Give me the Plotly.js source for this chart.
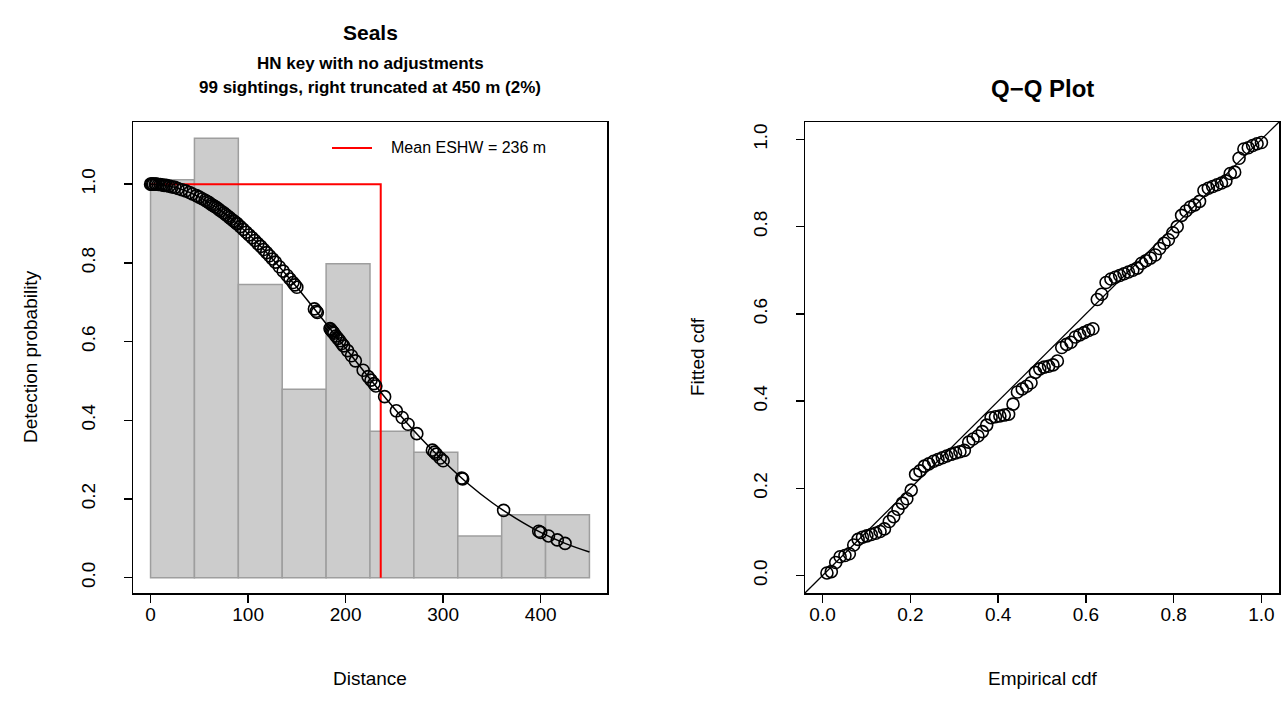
<!DOCTYPE html>
<html>
<head>
<meta charset="utf-8">
<script src="https://cdn.plot.ly/plotly-3.0.1.min.js"></script>
<style>html,body{margin:0;padding:0;background:#fff;}#chart{width:1287px;height:723px;}</style>
</head>
<body>
<div id="chart"></div>
<script>
// ---------- Data: detection function panel ----------
const binLeft = [0, 45, 90, 135, 180, 225, 270, 315, 360, 405];
const binWidth = 45;
const barHeights = [1.011, 1.117, 0.745, 0.479, 0.798, 0.372, 0.319, 0.106, 0.160, 0.160];

const curveDist = [0, 25, 50, 75, 100, 125, 150, 175, 200, 225, 250, 275, 300, 325, 350, 375, 400, 425, 450];
const curveProb = [1.000, 0.992, 0.967, 0.927, 0.874, 0.810, 0.738, 0.661, 0.583, 0.505, 0.430, 0.360, 0.297, 0.240, 0.191, 0.150, 0.115, 0.087, 0.065];

const sightDist = [
  0, 1, 2, 3, 5, 6, 8, 10, 12, 14, 16, 19, 22, 25, 28, 32, 36, 40, 43,
  47, 50, 53, 56, 58, 60, 62, 64, 66, 68, 70, 72, 75, 77, 79, 81, 83, 85, 86, 88, 89,
  92, 95, 98, 101, 104, 107, 110, 113, 116, 119, 122, 125, 128, 132,
  136, 140, 143, 146, 148, 150, 168, 170, 171,
  184, 185, 186, 187, 188, 190, 192, 194, 196, 198, 202, 206, 210, 218, 223,
  226, 229, 231, 240, 252, 258, 264,
  273, 289, 291, 293, 297, 300,
  319, 320,
  362, 398, 400,
  408, 417, 425
];
const sightProb = [
  1.000, 1.000, 1.000, 1.000, 1.000, 1.000, 0.999, 0.999, 0.998, 0.997, 0.997, 0.995, 0.993, 0.992, 0.989, 0.986, 0.983, 0.979, 0.975,
  0.971, 0.967, 0.963, 0.959, 0.956, 0.953, 0.949, 0.946, 0.943, 0.940, 0.936, 0.932, 0.927, 0.923, 0.919, 0.915, 0.911, 0.907, 0.905, 0.901, 0.899,
  0.892, 0.885, 0.878, 0.871, 0.864, 0.857, 0.849, 0.842, 0.834, 0.826, 0.818, 0.810, 0.802, 0.790,
  0.779, 0.768, 0.759, 0.750, 0.744, 0.738, 0.683, 0.677, 0.674,
  0.633, 0.630, 0.627, 0.624, 0.621, 0.614, 0.608, 0.602, 0.595, 0.589, 0.577, 0.564, 0.551, 0.527, 0.511,
  0.502, 0.493, 0.487, 0.460, 0.424, 0.407, 0.390,
  0.366, 0.324, 0.319, 0.314, 0.304, 0.297,
  0.253, 0.251,
  0.171, 0.118, 0.115,
  0.106, 0.096, 0.087
];
const meanESHW = 236;
const eshwLineX = [0, meanESHW, meanESHW];
const eshwLineY = [1, 1, 0];

// ---------- Data: Q-Q panel ----------
const qqEmpirical = [
  0.010,0.020,0.030,0.040,0.051,0.061,0.071,0.081,0.091,0.101,
  0.111,0.121,0.131,0.141,0.152,0.162,0.172,0.182,0.192,0.202,
  0.212,0.222,0.232,0.242,0.253,0.263,0.273,0.283,0.293,0.303,
  0.313,0.323,0.333,0.343,0.354,0.364,0.374,0.384,0.394,0.404,
  0.414,0.424,0.434,0.444,0.455,0.465,0.475,0.485,0.495,0.505,
  0.515,0.525,0.535,0.545,0.556,0.566,0.576,0.586,0.596,0.606,
  0.616,0.626,0.636,0.646,0.657,0.667,0.677,0.687,0.697,0.707,
  0.717,0.727,0.737,0.747,0.758,0.768,0.778,0.788,0.798,0.808,
  0.818,0.828,0.838,0.848,0.859,0.869,0.879,0.889,0.899,0.909,
  0.919,0.929,0.939,0.949,0.960,0.970,0.980,0.990,1.000
];
const qqFitted = [
  0.006,0.009,0.030,0.043,0.046,0.050,0.070,0.083,0.088,0.091,
  0.094,0.097,0.101,0.107,0.124,0.135,0.152,0.166,0.176,0.196,
  0.232,0.240,0.251,0.256,0.262,0.266,0.270,0.274,0.278,0.281,
  0.284,0.287,0.306,0.313,0.320,0.330,0.345,0.362,0.364,0.366,
  0.368,0.370,0.393,0.421,0.428,0.434,0.442,0.466,0.474,0.478,
  0.480,0.483,0.492,0.523,0.530,0.535,0.547,0.552,0.557,0.562,
  0.566,0.633,0.645,0.672,0.680,0.684,0.688,0.692,0.696,0.700,
  0.705,0.716,0.722,0.728,0.735,0.750,0.762,0.770,0.786,0.800,
  0.826,0.836,0.845,0.850,0.858,0.883,0.888,0.892,0.896,0.900,
  0.905,0.922,0.925,0.957,0.978,0.981,0.986,0.990,0.993
];
const refLine = [-0.1, 1.1];

const tickDist = [0, 100, 200, 300, 400];
const tickProb = [0, 0.2, 0.4, 0.6, 0.8, 1.0];

// ---------- Layout helpers ----------
const W = 1287, H = 723;
const px = x => x / W;
const py = y => 1 - y / H;
const FONT = 'Liberation Sans, Arial, Helvetica, sans-serif';

const traces = [
  { type: 'bar', x: binLeft, y: barHeights, width: binWidth, offset: 0,
    marker: { color: '#cccccc', line: { color: '#9e9e9e', width: 1.5 } },
    xaxis: 'x', yaxis: 'y', hoverinfo: 'skip' },
  { type: 'scatter', mode: 'lines', x: eshwLineX, y: eshwLineY,
    line: { color: '#ff0000', width: 2 }, xaxis: 'x', yaxis: 'y' },
  { type: 'scatter', mode: 'lines', x: curveDist, y: curveProb,
    line: { color: '#000', width: 1.5, shape: 'spline', smoothing: 1 }, xaxis: 'x', yaxis: 'y' },
  { type: 'scatter', mode: 'markers', x: sightDist, y: sightProb,
    marker: { symbol: 'circle-open', size: 12, color: '#000', line: { width: 1.6, color: '#000' } },
    xaxis: 'x', yaxis: 'y' },
  { type: 'scatter', mode: 'lines', x: refLine, y: refLine,
    line: { color: '#000', width: 1.3 }, xaxis: 'x2', yaxis: 'y2' },
  { type: 'scatter', mode: 'markers', x: qqEmpirical, y: qqFitted,
    marker: { symbol: 'circle-open', size: 12, color: '#000', line: { width: 1.6, color: '#000' } },
    xaxis: 'x2', yaxis: 'y2' }
];

const TICKSIZE = 19;
const axisCommon = {
  showline: true, linecolor: '#000', linewidth: 1.5, mirror: true,
  ticks: 'outside', ticklen: 8, tickwidth: 1.5, tickcolor: '#000',
  showgrid: false, zeroline: false,
  tickfont: { family: FONT, size: TICKSIZE, color: '#000' }
};

const yDom = [py(593), py(122)];

const layout = {
  width: W, height: H,
  margin: { l: 0, r: 0, t: 0, b: 0 },
  paper_bgcolor: '#fff', plot_bgcolor: '#fff',
  showlegend: false,
  xaxis: Object.assign({}, axisCommon, {
    domain: [px(133), px(607)], range: [-18, 468],
    tickvals: tickDist, ticktext: tickDist.map(String), anchor: 'y', ticklabelstandoff: -4
  }),
  yaxis: Object.assign({}, axisCommon, {
    domain: yDom, range: [-0.039, 1.158],
    tickvals: tickProb, ticktext: tickProb.map(v => v.toFixed(1)),
    tickangle: -90, ticklabelstandoff: 21, anchor: 'x'
  }),
  xaxis2: Object.assign({}, axisCommon, {
    domain: [px(805), px(1279)], range: [-0.04, 1.04],
    tickvals: tickProb, ticktext: tickProb.map(v => v.toFixed(1)), anchor: 'y2', ticklabelstandoff: -4
  }),
  yaxis2: Object.assign({}, axisCommon, {
    domain: yDom, range: [-0.04, 1.04],
    tickvals: tickProb, ticktext: tickProb.map(v => v.toFixed(1)),
    tickangle: -90, ticklabelstandoff: 21, anchor: 'x2'
  }),
  shapes: [
    { type: 'line', xref: 'paper', yref: 'paper', x0: px(332), x1: px(372), y0: py(148), y1: py(148),
      line: { color: '#ff0000', width: 2 } }
  ],
  annotations: [
    { text: 'Mean ESHW = 236 m', xref: 'paper', yref: 'paper', x: px(389), y: py(148),
      xanchor: 'left', yanchor: 'middle', showarrow: false, font: { family: FONT, size: 16, color: '#000' } },
    { text: '<b>Seals</b>', xref: 'paper', yref: 'paper', x: px(370), y: py(33),
      xanchor: 'center', yanchor: 'middle', showarrow: false, font: { family: FONT, size: 21, color: '#000' } },
    { text: '<b>HN key with no adjustments</b>', xref: 'paper', yref: 'paper', x: px(370), y: py(63),
      xanchor: 'center', yanchor: 'middle', showarrow: false, font: { family: FONT, size: 17, color: '#000' } },
    { text: '<b>99 sightings, right truncated at 450 m (2%)</b>', xref: 'paper', yref: 'paper', x: px(370), y: py(87),
      xanchor: 'center', yanchor: 'middle', showarrow: false, font: { family: FONT, size: 17, color: '#000' } },
    { text: '<b>Q\u2212Q Plot</b>', xref: 'paper', yref: 'paper', x: px(1042), y: py(88),
      xanchor: 'center', yanchor: 'middle', showarrow: false, font: { family: FONT, size: 24, color: '#000' } },
    { text: 'Distance', xref: 'paper', yref: 'paper', x: px(370), y: py(678),
      xanchor: 'center', yanchor: 'middle', showarrow: false, font: { family: FONT, size: TICKSIZE, color: '#000' } },
    { text: 'Empirical cdf', xref: 'paper', yref: 'paper', x: px(1042), y: py(678),
      xanchor: 'center', yanchor: 'middle', showarrow: false, font: { family: FONT, size: TICKSIZE, color: '#000' } },
    { text: 'Detection probability', xref: 'paper', yref: 'paper', x: px(30), y: py(357), textangle: -90,
      xanchor: 'center', yanchor: 'middle', showarrow: false, font: { family: FONT, size: TICKSIZE, color: '#000' } },
    { text: 'Fitted cdf', xref: 'paper', yref: 'paper', x: px(697), y: py(357), textangle: -90,
      xanchor: 'center', yanchor: 'middle', showarrow: false, font: { family: FONT, size: TICKSIZE, color: '#000' } }
  ]
};

Plotly.newPlot('chart', traces, layout, { staticPlot: true, displayModeBar: false });
</script>
</body>
</html>
